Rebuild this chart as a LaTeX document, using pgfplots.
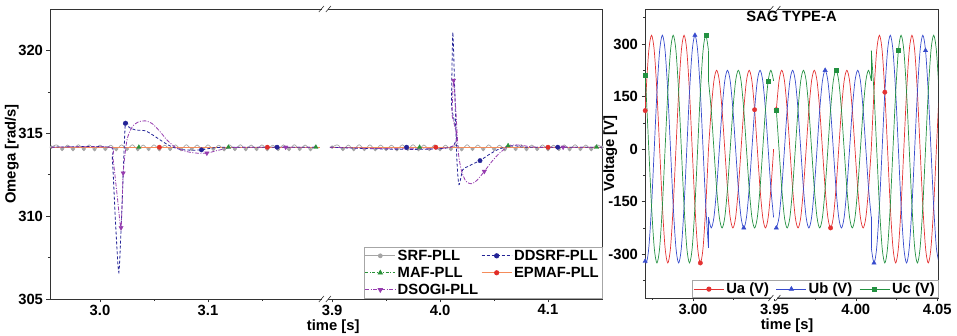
\documentclass[border=0pt]{standalone}
\usepackage{pgfplots}
\pgfplotsset{compat=1.18}
\usepackage{pgfplotstable}
\usepackage{fontspec}
\setmainfont{Liberation Sans}

\definecolor{cua}{RGB}{228,50,50}
\definecolor{cub}{RGB}{55,75,205}
\definecolor{cuc}{RGB}{35,145,65}
\definecolor{csrf}{RGB}{165,165,165}
\definecolor{cdd}{RGB}{35,35,150}
\definecolor{cmaf}{RGB}{40,145,55}
\definecolor{cepl}{RGB}{245,140,90}
\definecolor{cepm}{RGB}{225,45,40}
\definecolor{cds}{RGB}{150,60,175}

% ---------- three-phase voltages (t, Ua, Ub, Uc) ----------
\pgfplotstableread{
t ua ub uc
2.96950 0 -281.5 281.5
2.97117 162.5 -325 162.5
2.97283 281.5 -281.5 0
2.97450 325 -162.5 -162.5
2.97617 281.5 0 -281.5
2.97783 162.5 162.5 -325
2.97950 0 281.5 -281.5
2.98117 -162.5 325 -162.5
2.98283 -281.5 281.5 0
2.98450 -325 162.5 162.5
2.98617 -281.5 0 281.5
2.98783 -162.5 -162.5 325
2.98950 0 -281.5 281.5
2.99117 162.5 -325 162.5
2.99283 281.5 -281.5 0
2.99450 325 -162.5 -162.5
2.99617 281.5 0 -281.5
2.99783 162.5 162.5 -325
2.99950 0 281.5 -281.5
3.00117 -162.5 325 -162.5
3.00283 -281.5 281.5 0
3.00450 -325 162.5 162.5
3.00617 -281.5 0 281.5
3.00783 -162.5 -162.5 325
3.00950 0 -281.5 281.5
}\LA
\pgfplotstableread{
t ua ub uc
3.00950 0 -194.9 194.9
3.01117 112.5 -225 112.5
3.01283 194.9 -194.9 0
3.01450 225 -112.5 -112.5
3.01617 194.9 0 -194.9
3.01783 112.5 112.5 -225
3.01950 0 194.9 -194.9
3.02117 -112.5 225 -112.5
3.02283 -194.9 194.9 0
3.02450 -225 112.5 112.5
3.02617 -194.9 0 194.9
3.02783 -112.5 -112.5 225
3.02950 0 -194.9 194.9
3.03117 112.5 -225 112.5
3.03283 194.9 -194.9 0
3.03450 225 -112.5 -112.5
3.03617 194.9 0 -194.9
3.03783 112.5 112.5 -225
3.03950 0 194.9 -194.9
3.04117 -112.5 225 -112.5
3.04283 -194.9 194.9 0
3.04450 -225 112.5 112.5
3.04617 -194.9 0 194.9
3.04783 -112.5 -112.5 225
3.04950 0 -194.9 194.9
}\LB
\pgfplotstableread{
t ua ub uc
3.00950 0 -281.5 281.5
3.00950 0 -194.9 194.9
}\JL
\pgfplotstableread{
t ua ub uc
3.95117 112.5 -225 112.5
3.95283 194.9 -194.9 0
3.95450 225 -112.5 -112.5
3.95617 194.9 0 -194.9
3.95783 112.5 112.5 -225
3.95950 0 194.9 -194.9
3.96117 -112.5 225 -112.5
3.96283 -194.9 194.9 0
3.96450 -225 112.5 112.5
3.96617 -194.9 0 194.9
3.96783 -112.5 -112.5 225
3.96950 0 -194.9 194.9
3.97117 112.5 -225 112.5
3.97283 194.9 -194.9 0
3.97450 225 -112.5 -112.5
3.97617 194.9 0 -194.9
3.97783 112.5 112.5 -225
3.97950 0 194.9 -194.9
3.98117 -112.5 225 -112.5
3.98283 -194.9 194.9 0
3.98450 -225 112.5 112.5
3.98617 -194.9 0 194.9
3.98783 -112.5 -112.5 225
3.98950 0 -194.9 194.9
3.99117 112.5 -225 112.5
3.99283 194.9 -194.9 0
3.99450 225 -112.5 -112.5
3.99617 194.9 0 -194.9
3.99783 112.5 112.5 -225
3.99950 0 194.9 -194.9
4.00117 -112.5 225 -112.5
4.00283 -194.9 194.9 0
4.00450 -225 112.5 112.5
4.00617 -194.9 0 194.9
4.00783 -112.5 -112.5 225
4.00950 0 -194.9 194.9
}\RA
\pgfplotstableread{
t ua ub uc
4.00950 0 -281.5 281.5
4.01117 162.5 -325 162.5
4.01283 281.5 -281.5 0
4.01450 325 -162.5 -162.5
4.01617 281.5 0 -281.5
4.01783 162.5 162.5 -325
4.01950 0 281.5 -281.5
4.02117 -162.5 325 -162.5
4.02283 -281.5 281.5 0
4.02450 -325 162.5 162.5
4.02617 -281.5 0 281.5
4.02783 -162.5 -162.5 325
4.02950 0 -281.5 281.5
4.03117 162.5 -325 162.5
4.03283 281.5 -281.5 0
4.03450 325 -162.5 -162.5
4.03617 281.5 0 -281.5
4.03783 162.5 162.5 -325
4.03950 0 281.5 -281.5
4.04117 -162.5 325 -162.5
4.04283 -281.5 281.5 0
4.04450 -325 162.5 162.5
4.04617 -281.5 0 281.5
4.04783 -162.5 -162.5 325
4.04950 0 -281.5 281.5
4.05117 162.5 -325 162.5
}\RB
\pgfplotstableread{
t ua ub uc
4.00950 0 -194.9 194.9
4.00950 0 -281.5 281.5
}\JR

% ---------- PLL frequencies ----------
\pgfplotstableread{
t y
2.955 314.16
2.960 314.30
2.965 314.03
2.970 314.29
2.975 314.02
2.980 314.31
2.985 314.03
2.990 314.30
2.995 314.02
3.000 314.29
3.005 314.03
3.010 314.28
3.015 314.02
3.020 314.30
3.025 314.04
3.030 314.31
3.035 314.02
3.040 314.29
3.045 314.03
3.050 314.30
3.055 314.02
3.060 314.28
3.065 314.03
3.070 314.30
3.075 314.02
3.080 314.31
3.085 314.04
3.090 314.29
3.095 314.02
3.100 314.30
3.105 314.03
3.110 314.28
3.115 314.02
3.120 314.30
3.125 314.03
3.130 314.31
3.135 314.02
3.140 314.29
3.145 314.03
3.150 314.30
3.155 314.02
3.160 314.28
3.165 314.03
3.170 314.30
3.175 314.02
3.180 314.31
3.185 314.03
3.190 314.29
3.195 314.02
3.200 314.30
}\SL
\pgfplotstableread{
t y
3.900 314.16
3.905 314.30
3.910 314.03
3.915 314.29
3.920 314.02
3.925 314.31
3.930 314.03
3.935 314.30
3.940 314.02
3.945 314.29
3.950 314.03
3.955 314.28
3.960 314.02
3.965 314.30
3.970 314.04
3.975 314.31
3.980 314.02
3.985 314.29
3.990 314.03
3.995 314.30
4.000 314.02
4.005 314.28
4.010 314.03
4.015 314.30
4.020 314.02
4.025 314.31
4.030 314.04
4.035 314.29
4.040 314.02
4.045 314.30
4.050 314.03
4.055 314.28
4.060 314.02
4.065 314.30
4.070 314.03
4.075 314.31
4.080 314.02
4.085 314.29
4.090 314.03
4.095 314.30
4.100 314.02
4.105 314.28
4.110 314.03
4.115 314.30
4.120 314.02
4.125 314.31
4.130 314.03
4.135 314.29
4.140 314.02
4.145 314.30
4.150 314.16
}\SR
\pgfplotstableread{
t y
2.955 314.16
3.009 314.16
3.0115 313.4
3.0145 309.5
3.0175 306.6
3.0205 310.8
3.0235 315.6
3.027 315.35
3.033 315.2
3.042 315.15
3.050 314.85
3.058 314.5
3.066 314.2
3.075 314.02
3.085 313.98
3.094 314.0
3.105 314.12
3.120 314.16
3.200 314.16
}\DL
\pgfplotstableread{
t y
3.898 314.16
4.0095 314.16
4.0105 316.8
4.0118 321.1
4.0135 317.8
4.0155 313.5
4.0175 311.9
4.021 312.8
4.026 313.0
4.032 313.2
4.037 313.35
4.045 313.7
4.053 314.0
4.062 314.2
4.070 314.25
4.080 314.16
4.150 314.16
}\DR
\pgfplotstableread{
t y
2.955 314.16
3.009 314.16
3.012 313.5
3.016 311.2
3.0195 309.3
3.0215 312.6
3.025 314.6
3.030 315.4
3.036 315.7
3.042 315.75
3.048 315.6
3.055 315.15
3.062 314.6
3.070 314.15
3.080 313.9
3.090 313.8
3.099 313.8
3.108 313.95
3.120 314.12
3.135 314.16
3.200 314.16
}\GL
\pgfplotstableread{
t y
3.898 314.16
4.0095 314.16
4.0110 316.2
4.0125 318.2
4.0145 316.5
4.017 313.8
4.020 312.7
4.024 312.1
4.029 311.95
4.034 312.15
4.041 312.7
4.048 313.3
4.055 313.8
4.062 314.15
4.069 314.3
4.078 314.25
4.090 314.16
4.150 314.16
}\GR

\pgfplotsset{
  myaxis/.style={
    scale only axis,
    axis line style={black!80, line width=0.8pt},
    every tick/.style={black!80, line width=0.6pt},
    tick align=outside,
    xtick pos=left, ytick pos=left,
    major tick length=3.5pt, minor tick length=2pt,
    ticklabel style={font=\fontsize{14.8}{17}\selectfont\bfseries},
    xticklabel style={inner sep=1pt, yshift=-1pt},
    /pgf/number format/assume math mode=true,
    label style={font=\fontsize{14.8}{17}\selectfont\bfseries, inner sep=0.5pt},
    legend cell align=left,
    legend style={font=\fontsize{14.8}{17}\selectfont\bfseries, draw=black!35, line width=0.5pt,
      fill=white, inner xsep=1pt, inner ysep=0.5pt, row sep=0pt,
      nodes={inner ysep=2.6pt, inner xsep=2pt},
      /tikz/every even column/.append style={column sep=1pt}},
    legend image code/.code={\draw[#1] (0pt,0pt) -- (30pt,0pt); \draw[#1, solid] plot coordinates {(15pt,0pt)};},
    clip mode=individual,
  },
  uas/.style={color=cua, line width=0.7pt},
  ubs/.style={color=cub, line width=0.7pt},
  ucs/.style={color=cuc, line width=0.7pt},
  srfs/.style={color=csrf, line width=0.7pt},
  ddsrfs/.style={color=cdd, line width=0.8pt, dash pattern=on 3pt off 2pt},
  mafs/.style={color=cmaf, line width=0.7pt, dash pattern=on 3pt off 1.5pt on 0.8pt off 1.5pt},
  epmafs/.style={color=cepl, line width=0.7pt},
  dsogis/.style={color=cds, line width=0.8pt, dash pattern=on 4pt off 1.5pt on 1pt off 1.5pt},
}

\begin{document}
\begin{tikzpicture}
\path[use as bounding box] (0pt,0pt) rectangle (957pt,336pt);

% ================= LEFT PANEL =================
\begin{axis}[myaxis, name=L,
  at={(50pt,37pt)}, anchor=south west, width=552pt, height=290pt,
  xmin=2.9537, xmax=3.465, ymin=305, ymax=322.5,
  xtick={3.0,3.1,3.215,3.315,3.415}, xticklabels={3.0,3.1,3.9,4.0,4.1},
  minor xtick={3.05,3.15,3.265,3.365},
  ytick={305,310,315,320}, minor ytick={307.5,312.5,317.5},
  xlabel={time [s]}, ylabel={Omega [rad/s]},
  xlabel style={at={(axis description cs:0.513,-0.096)}, anchor=center},
  ylabel style={at={(axis description cs:-0.069,0.5)}, anchor=center},
  legend columns=2, legend style={at={(1,0)}, anchor=south east},
]
\addlegendimage{srfs, mark=*, mark size=2pt, mark options={fill=csrf}}
\addlegendentry{SRF-PLL}
\addlegendimage{ddsrfs, mark=*, mark size=2.2pt, mark options={fill=cdd}}
\addlegendentry{DDSRF-PLL}
\addlegendimage{mafs, mark=triangle*, mark size=2.5pt, mark options={fill=cmaf}}
\addlegendentry{MAF-PLL}
\addlegendimage{epmafs, mark=*, mark size=2.2pt, mark options={color=cepm, fill=cepm}}
\addlegendentry{EPMAF-PLL}
\addlegendimage{dsogis, mark=triangle*, mark size=2.5pt, mark options={rotate=180, fill=cds}}
\addlegendentry{DSOGI-PLL}

% SRF-PLL
\addplot[srfs, smooth, mark=*, mark size=1.4pt, mark repeat=2, mark options={solid, fill=csrf}, forget plot] table[x=t, y=y] {\SL};
\addplot[srfs, smooth, mark=*, mark size=1.4pt, mark repeat=2, mark options={solid, fill=csrf}, forget plot] table[x expr=\thisrow{t}-0.685, y=y] {\SR};
% MAF-PLL
\addplot[mafs, forget plot] table[x=t, y=y, row sep=\\] {t y\\ 2.955 314.16\\ 3.2037 314.16\\};
\addplot[mafs, forget plot] table[x expr=\thisrow{t}-0.685, y=y, row sep=\\] {t y\\ 3.898 314.16\\ 4.150 314.16\\};
% EPMAF-PLL
\addplot[epmafs, forget plot] table[x=t, y=y, row sep=\\] {t y\\ 2.955 314.16\\ 3.2037 314.16\\};
\addplot[epmafs, forget plot] table[x expr=\thisrow{t}-0.685, y=y, row sep=\\] {t y\\ 3.898 314.16\\ 4.150 314.16\\};
% DDSRF-PLL
\addplot[ddsrfs, smooth, tension=0.4, forget plot] table[x=t, y=y] {\DL};
\addplot[ddsrfs, smooth, tension=0.4, forget plot] table[x expr=\thisrow{t}-0.685, y=y] {\DR};
% DSOGI-PLL
\addplot[dsogis, smooth, tension=0.4, forget plot] table[x=t, y=y] {\GL};
\addplot[dsogis, smooth, tension=0.4, forget plot] table[x expr=\thisrow{t}-0.685, y=y] {\GR};

% markers
\addplot[only marks, mark=triangle*, mark size=2.5pt, color=cmaf, forget plot]
  table[x expr={\thisrow{t}>3.5 ? \thisrow{t}-0.685 : \thisrow{t}}, y=y, row sep=\\]
  {t y\\ 3.036 314.16\\ 3.119 314.16\\ 3.200 314.16\\ 3.981 314.16\\ 4.063 314.25\\ 4.145 314.16\\};
\addplot[only marks, mark=*, mark size=2.2pt, color=cepm, forget plot]
  table[x expr={\thisrow{t}>3.5 ? \thisrow{t}-0.685 : \thisrow{t}}, y=y, row sep=\\]
  {t y\\ 3.055 314.16\\ 3.155 314.16\\ 3.996 314.16\\ 4.100 314.16\\};
\addplot[only marks, mark=*, mark size=2.2pt, color=cdd, forget plot]
  table[x expr={\thisrow{t}>3.5 ? \thisrow{t}-0.685 : \thisrow{t}}, y=y, row sep=\\]
  {t y\\ 3.0235 315.6\\ 3.094 314.0\\ 3.164 314.16\\ 3.969 314.16\\ 4.037 313.35\\ 4.109 314.16\\};
\addplot[only marks, mark=triangle*, mark size=2.5pt, mark options={rotate=180}, color=cds, forget plot]
  table[x expr={\thisrow{t}>3.5 ? \thisrow{t}-0.685 : \thisrow{t}}, y=y, row sep=\\]
  {t y\\ 3.0195 309.3\\ 3.0215 312.6\\ 3.099 313.8\\ 3.172 314.16\\ 4.0125 318.2\\ 4.041 312.7\\ 4.114 314.16\\};

\coordinate (LbT) at (axis cs:3.2083,322.5);
\coordinate (LbB) at (axis cs:3.2083,305);
\end{axis}

% ================= RIGHT PANEL =================
\begin{axis}[myaxis, name=R,
  at={(645pt,38pt)}, anchor=south west, width=293pt, height=289pt,
  xmin=2.9705, xmax=3.1505, ymin=-425, ymax=400,
  xtick={3.00,3.05,3.10,3.15}, xticklabels={3.00,3.95,4.00,4.05},
  minor xtick={2.975,3.025,3.075,3.125},
  ytick={-300,-150,0,150,300}, minor ytick={-375,-225,-75,75,225,375},
  title={SAG TYPE-A},
  title style={at={(0.5,0.955)}, anchor=center, font=\fontsize{14.8}{17}\selectfont\bfseries},
  xlabel={time [s]}, ylabel={Voltage [V]},
  xlabel style={at={(axis description cs:0.485,-0.097)}, anchor=center},
  ylabel style={at={(axis description cs:-0.118,0.5)}, anchor=center},
  legend columns=3, legend style={at={(1,0)}, anchor=south east, nodes={inner ysep=2pt},
    /tikz/every even column/.append style={column sep=5pt}},
]
\addlegendimage{uas, mark=*, mark size=2.2pt, mark options={fill=cua}}
\addlegendentry{Ua (V)}
\addlegendimage{ubs, mark=triangle*, mark size=2.5pt, mark options={fill=cub}}
\addlegendentry{Ub (V)}
\addlegendimage{ucs, mark=square*, mark size=2pt, mark options={fill=cuc}}
\addlegendentry{Uc (V)}

\addplot[uas, smooth, forget plot] table[x=t, y=ua] {\LA};
\addplot[ubs, smooth, forget plot] table[x=t, y=ub] {\LA};
\addplot[ucs, smooth, forget plot] table[x=t, y=uc] {\LA};
\addplot[uas, smooth, forget plot] table[x=t, y=ua] {\LB};
\addplot[ubs, smooth, forget plot] table[x=t, y=ub] {\LB};
\addplot[ucs, smooth, forget plot] table[x=t, y=uc] {\LB};
\addplot[ubs, forget plot] table[x=t, y=ub] {\JL};
\addplot[ucs, forget plot] table[x=t, y=uc] {\JL};
\addplot[uas, smooth, forget plot] table[x expr=\thisrow{t}-0.9, y=ua] {\RA};
\addplot[ubs, smooth, forget plot] table[x expr=\thisrow{t}-0.9, y=ub] {\RA};
\addplot[ucs, smooth, forget plot] table[x expr=\thisrow{t}-0.9, y=uc] {\RA};
\addplot[uas, smooth, forget plot] table[x expr=\thisrow{t}-0.9, y=ua] {\RB};
\addplot[ubs, smooth, forget plot] table[x expr=\thisrow{t}-0.9, y=ub] {\RB};
\addplot[ucs, smooth, forget plot] table[x expr=\thisrow{t}-0.9, y=uc] {\RB};
\addplot[ubs, forget plot] table[x expr=\thisrow{t}-0.9, y=ub] {\JR};
\addplot[ucs, forget plot] table[x expr=\thisrow{t}-0.9, y=uc] {\JR};

\addplot[only marks, mark=*, mark size=2.2pt, color=cua, forget plot]
  table[x expr={\thisrow{t}>3.5 ? \thisrow{t}-0.9 : \thisrow{t}}, y=v, row sep=\\]
  {t v\\ 2.9706 110\\ 3.00450 -325\\ 3.03783 112.5\\ 3.95117 112.5\\ 3.98450 -225\\ 4.01783 162.5\\};
\addplot[only marks, mark=triangle*, mark size=2.5pt, color=cub, forget plot]
  table[x expr={\thisrow{t}>3.5 ? \thisrow{t}-0.9 : \thisrow{t}}, y=v, row sep=\\]
  {t v\\ 2.9706 -320\\ 3.00117 325\\ 3.03117 -225\\ 3.95117 -225\\ 3.98117 225\\ 4.01117 -325\\ 4.04283 281.5\\};
\addplot[only marks, mark=square*, mark size=2pt, color=cuc, forget plot]
  table[x expr={\thisrow{t}>3.5 ? \thisrow{t}-0.9 : \thisrow{t}}, y=v, row sep=\\]
  {t v\\ 2.9706 210\\ 3.00783 325\\ 3.04617 194.9\\ 3.95117 112.5\\ 3.98783 225\\ 4.02617 281.5\\};

\coordinate (RbT) at (axis cs:3.05,400);
\coordinate (RbB) at (axis cs:3.05,-425);
\end{axis}

% axis breaks
\foreach \c in {LbT,LbB,RbT,RbB}{
  \fill[white] ([xshift=-3pt,yshift=-1.5pt]\c) rectangle ([xshift=3pt,yshift=1.5pt]\c);
  \draw[black!80, line width=0.6pt] ([xshift=-6pt,yshift=-3pt]\c) -- ([xshift=-1pt,yshift=3pt]\c);
  \draw[black!80, line width=0.6pt] ([xshift=1pt,yshift=-3pt]\c) -- ([xshift=6pt,yshift=3pt]\c);
}
\end{tikzpicture}
\end{document}
